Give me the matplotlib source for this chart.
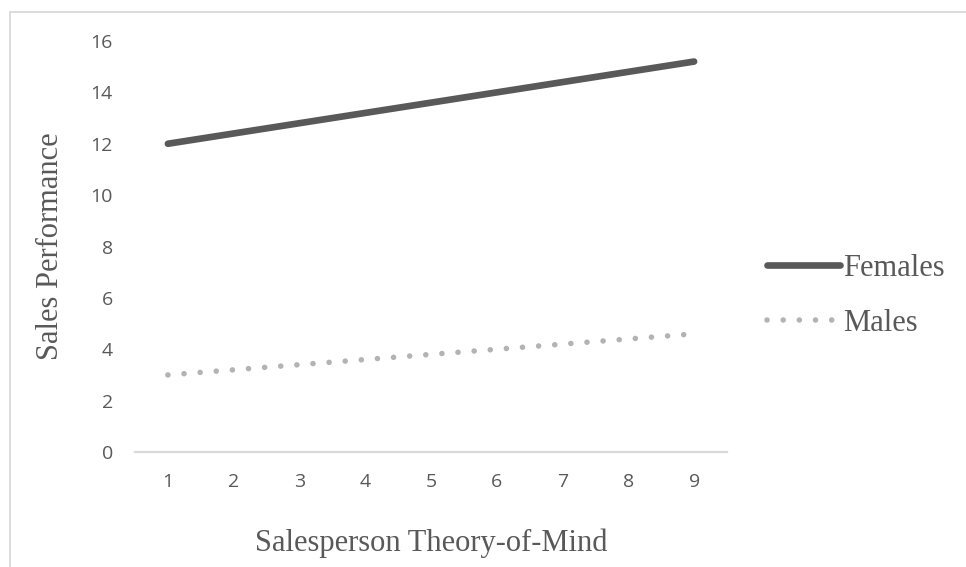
import matplotlib
matplotlib.use("Agg")
import matplotlib.pyplot as plt
from matplotlib.patches import Rectangle

# data
tom = [1, 2, 3, 4, 5, 6, 7, 8, 9]
females = [12.0, 12.4, 12.8, 13.2, 13.6, 14.0, 14.4, 14.8, 15.2]
males = [3.0, 3.2, 3.4, 3.6, 3.8, 4.0, 4.2, 4.4, 4.6]
yticks = [0, 2, 4, 6, 8, 10, 12, 14, 16]

W, H = 966, 567
fig = plt.figure(figsize=(W / 100, H / 100), dpi=100)

# light frame around the chart (only left / top visible in the crop)
fig.add_artist(Rectangle((10 / W, -0.5), 2, 1.5 - 12 / H, transform=fig.transFigure,
                         fill=False, edgecolor='#d9d9d9', linewidth=1.3))

ax = fig.add_axes([135 / W, 1 - 452 / H, (727 - 135) / W, (452 - 41) / H])

f_line, = ax.plot(tom, females, color='#595959', linewidth=4.8,
                  solid_capstyle='round', label='Females')
m_line, = ax.plot(tom, males, color='#b3b3b3', linewidth=4.0,
                  linestyle=(0, (0.01, 2.9)), dash_capstyle='round', label='Males')

ax.set_xlim(0.5, 9.5)
ax.set_ylim(0, 16)
ax.set_xticks(tom)
ax.set_yticks(yticks)
for s in ['top', 'right', 'left']:
    ax.spines[s].set_visible(False)
ax.spines['bottom'].set_color('#d9d9d9')
ax.spines['bottom'].set_linewidth(1.6)
ax.tick_params(length=0, labelsize=14, labelcolor='#595959')
ax.tick_params(axis='y', pad=16)
ax.tick_params(axis='x', pad=15)
for lab in ax.get_xticklabels() + ax.get_yticklabels():
    lab.set_family('Open Sans')

serif = 'Liberation Serif'
ax.set_xlabel('Salesperson Theory-of-Mind', family=serif, fontsize=22,
              color='#595959', labelpad=27)
ax.set_ylabel('Sales Performance', family=serif, fontsize=22,
              color='#595959', labelpad=18)

leg = fig.legend(handles=[f_line, m_line], loc='center left',
                 bbox_to_anchor=(767 / W, 1 - 296 / H), frameon=False,
                 prop={'family': serif, 'size': 22}, handlelength=2.4,
                 handletextpad=0.1, borderpad=0, borderaxespad=0,
                 labelspacing=0.85, labelcolor='#595959')

fig.savefig('out.png', dpi=100)
